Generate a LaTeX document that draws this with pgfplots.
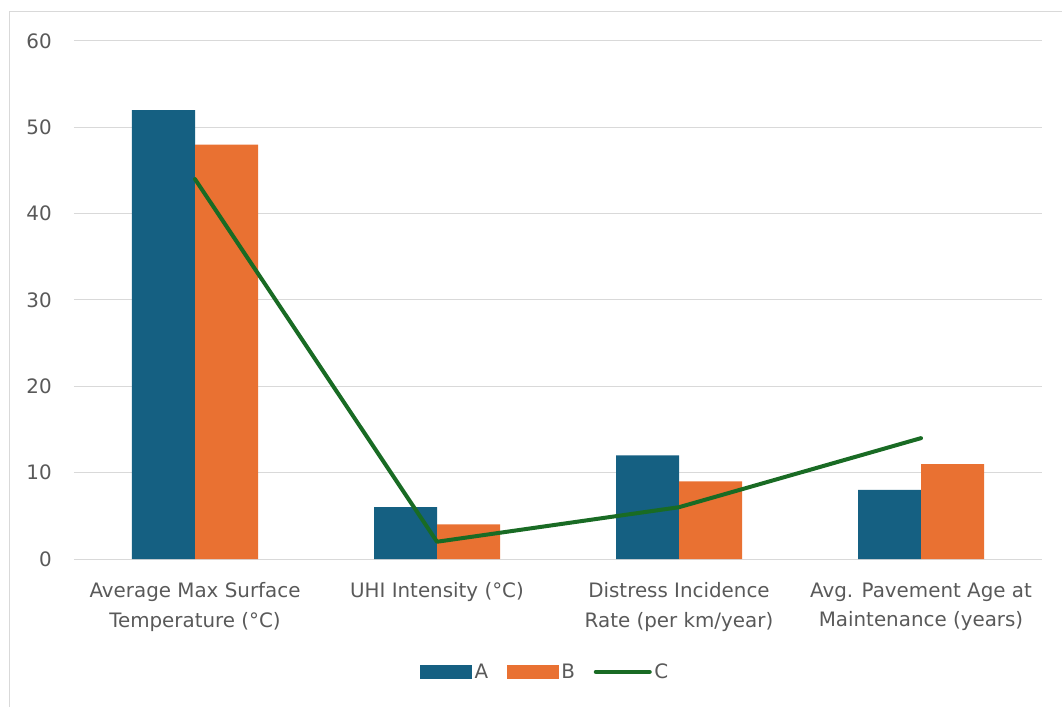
\documentclass[border=0pt]{standalone}
\usepackage{pgfplots}
\pgfplotsset{compat=1.18}
\usepackage{fontspec}
\setmainfont{DejaVu Sans}
\definecolor{cA}{HTML}{156082}
\definecolor{cB}{HTML}{E97132}
\definecolor{cC}{HTML}{196B24}
\definecolor{txt}{HTML}{595959}
\definecolor{gridc}{HTML}{D9D9D9}
\begin{document}
\begin{tikzpicture}
\useasboundingbox (0,0) rectangle (796.5pt,529.5pt);
\draw[gridc, line width=0.75pt] (6.75pt,-5pt) -- (6.75pt,520.5pt) -- (805pt,520.5pt);
\begin{axis}[
  at={(55.5pt,110.25pt)}, anchor=south west,
  scale only axis, width=726pt, height=388.5pt,
  xmin=-0.5, xmax=3.5, ymin=0, ymax=60,
  xtick=data, ytick={0,10,...,60},
  xticklabels={{Average Max Surface\\Temperature (°C)},{UHI Intensity (°C)},{Distress Incidence\\Rate (per km/year)},{Avg. Pavement Age at\\Maintenance (years)}},
  /pgf/number format/assume math mode=true,
  axis line style={draw=none},
  tick style={draw=none},
  ymajorgrids, major grid style={color=gridc, line width=0.75pt},
  font=\fontsize{14.9}{22.2}\selectfont,
  tick label style={color=txt},
  yticklabel style={inner sep=0pt, xshift=-16.5pt},
  xticklabel style={align=center, inner sep=0pt, anchor=north, yshift=-17.5pt},
  legend style={at={(0.487,-0.218)}, anchor=center, draw=none, fill=none,
    legend columns=3, text=txt, font=\fontsize{14.9}{18}\selectfont,
    /tikz/every even column/.append style={column sep=12pt},
    nodes={inner xsep=2pt}},
]
\addplot[ybar, bar width=47.25pt, bar shift=-23.625pt, fill=cA, draw=none,
  legend image code/.code={\fill[cA] (0pt,-5.25pt) rectangle (39pt,5.25pt);}]
  coordinates {(0,52) (1,6) (2,12) (3,8)};
\addlegendentry{A}
\addplot[ybar, bar width=47.25pt, bar shift=23.625pt, fill=cB, draw=none,
  legend image code/.code={\fill[cB] (0pt,-5.25pt) rectangle (39pt,5.25pt);}]
  coordinates {(0,48) (1,4) (2,9) (3,11)};
\addlegendentry{B}
\addplot[sharp plot, no marks, color=cC, line width=3pt, line cap=round, line join=round,
  legend image code/.code={\draw[cC, line width=3.5pt, line cap=round] (0pt,0pt) -- (40pt,0pt);}]
  coordinates {(0,44) (1,2) (2,6) (3,14)};
\addlegendentry{C}
\end{axis}
\end{tikzpicture}
\end{document}
